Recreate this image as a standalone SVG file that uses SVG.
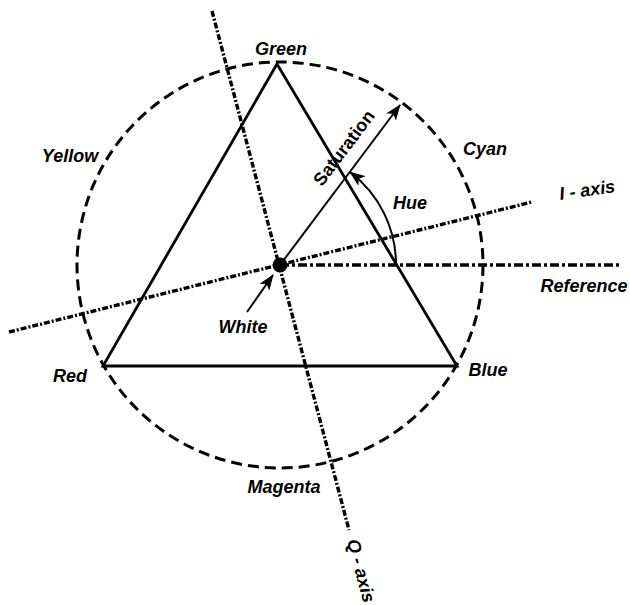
<svg xmlns="http://www.w3.org/2000/svg" width="630" height="605" viewBox="0 0 630 605">
<defs>
<style>
.lbl{font-family:"Liberation Sans",Arial,sans-serif;font-size:18px;font-weight:bold;font-style:italic;fill:#000;text-anchor:middle}
.sat{font-family:"Liberation Sans",Arial,sans-serif;font-size:18px;font-weight:bold;fill:#000;text-anchor:middle}
.circ{fill:none;stroke:#000;stroke-width:3;stroke-dasharray:11 6}
.tri{fill:none;stroke:#000;stroke-width:2.8;stroke-linejoin:miter}
.axis{fill:none;stroke:#000;stroke-width:3.4;stroke-dasharray:6 2 2 2}
.ref{fill:none;stroke:#000;stroke-width:3.4;stroke-dasharray:9 3 3 3}
.arr{fill:none;stroke:#000;stroke-width:2}
</style>
<marker id="ah" markerWidth="16" markerHeight="12" refX="15" refY="6" orient="auto" markerUnits="userSpaceOnUse">
<path d="M0,0 L16,6 L0,12 L4,6 Z" fill="#000"/>
</marker>
</defs>
<rect width="630" height="605" fill="#fff"/>
<g id="circle"><circle class="circ" cx="280" cy="265" r="203"/></g>
<g id="triangle"><polygon class="tri" points="277,64 103,366 457,366"/></g>
<g id="connectors">
<line class="axis" x1="212" y1="11" x2="349" y2="530"/>
<line class="axis" x1="9" y1="332" x2="532" y2="202"/>
<line class="ref" x1="280" y1="265" x2="620" y2="265"/>
<line class="arr" x1="280" y1="265" x2="400" y2="105" marker-end="url(#ah)"/>
<path class="arr" d="M396,265 A116,116 0 0 0 350,172" marker-end="url(#ah)"/>
<line class="arr" x1="247" y1="312" x2="273" y2="275" marker-end="url(#ah)"/>
</g>
<g id="white-point"><circle cx="280" cy="265" r="7.5" fill="#000"/></g>
<g id="labels">
<text class="lbl" x="281" y="55">Green</text>
<text class="lbl" x="70" y="162">Yellow</text>
<text class="lbl" x="485" y="155">Cyan</text>
<text class="lbl" x="70" y="382">Red</text>
<text class="lbl" x="488" y="376">Blue</text>
<text class="lbl" x="284" y="493">Magenta</text>
<text class="lbl" x="243" y="333">White</text>
<text class="lbl" x="410" y="209">Hue</text>
<text class="lbl" x="584" y="292">Reference</text>
<text class="lbl" transform="translate(588,196) rotate(-8)">I - axis</text>
<text class="lbl" transform="translate(360,571) rotate(75)" y="5">Q - axis</text>
<text class="sat" transform="translate(344,148) rotate(-53)" y="6">Saturation</text>
</g>
</svg>
